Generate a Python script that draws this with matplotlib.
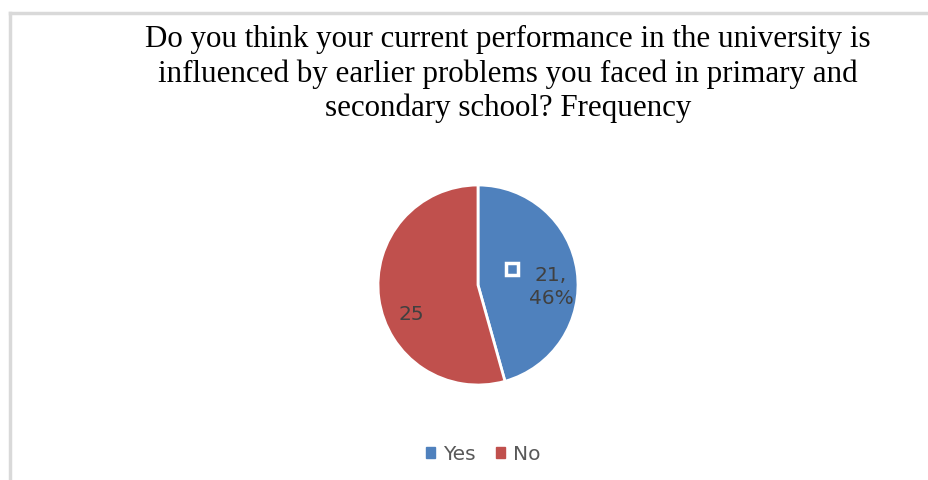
import matplotlib.pyplot as plt
from matplotlib.patches import Rectangle

# Data
labels = ['Yes', 'No']
values = [21, 25]
colors = ['#4F81BD', '#C0504D']
title = ('Do you think your current performance in the university is\n'
         'influenced by earlier problems you faced in primary and\n'
         'secondary school? Frequency')

fig = plt.figure(figsize=(9.29, 4.81), dpi=100)

# outer chart border (top and left visible)
fig.add_artist(plt.Line2D([10/929, 1], [1 - 14/481, 1 - 14/481], color='#d9d9d9', lw=2.5, transform=fig.transFigure))
fig.add_artist(plt.Line2D([10/929, 10/929], [0, 1 - 14/481], color='#d9d9d9', lw=2.5, transform=fig.transFigure))

fig.text(508/929, 1 - 74/481, title, ha='center', va='center', fontsize=22.3,
         family='Liberation Serif', linespacing=1.22)

# pie axes: center (478, 286), radius 100 px
ax = fig.add_axes([378/929, 1 - 386/481, 200/929, 200/481])
wedges, _ = ax.pie(values, colors=colors, startangle=90, counterclock=False,
                   wedgeprops=dict(edgecolor='white', linewidth=2))
ax.set_xlim(-1, 1)
ax.set_ylim(-1, 1)
ax.set_aspect('equal')

total = sum(values)
ax.text(-0.67, -0.28, str(values[1]), ha='center', va='center', fontsize=14.5,
        color='#404040', family='DejaVu Sans')
ax.text(0.73, -0.01, '%d,\n%d%%' % (values[0], round(values[0] / total * 100)),
        ha='center', va='center', fontsize=14.5, color='#404040',
        family='DejaVu Sans', linespacing=1.3)
ax.add_patch(Rectangle((0.28, 0.10), 0.12, 0.12, facecolor='#4F81BD',
                       edgecolor='white', linewidth=2.5))

# legend
handles = [Rectangle((0, 0), 1, 1, color=c) for c in colors]
fig.legend(handles, labels, loc='center', bbox_to_anchor=(483/929, 1 - 455/481),
           ncol=2, frameon=False, fontsize=14.5, handlelength=0.45, handleheight=0.45,
           handletextpad=0.4, columnspacing=1.0, labelcolor='#595959')

fig.savefig('out.png', dpi=100, facecolor='white')
